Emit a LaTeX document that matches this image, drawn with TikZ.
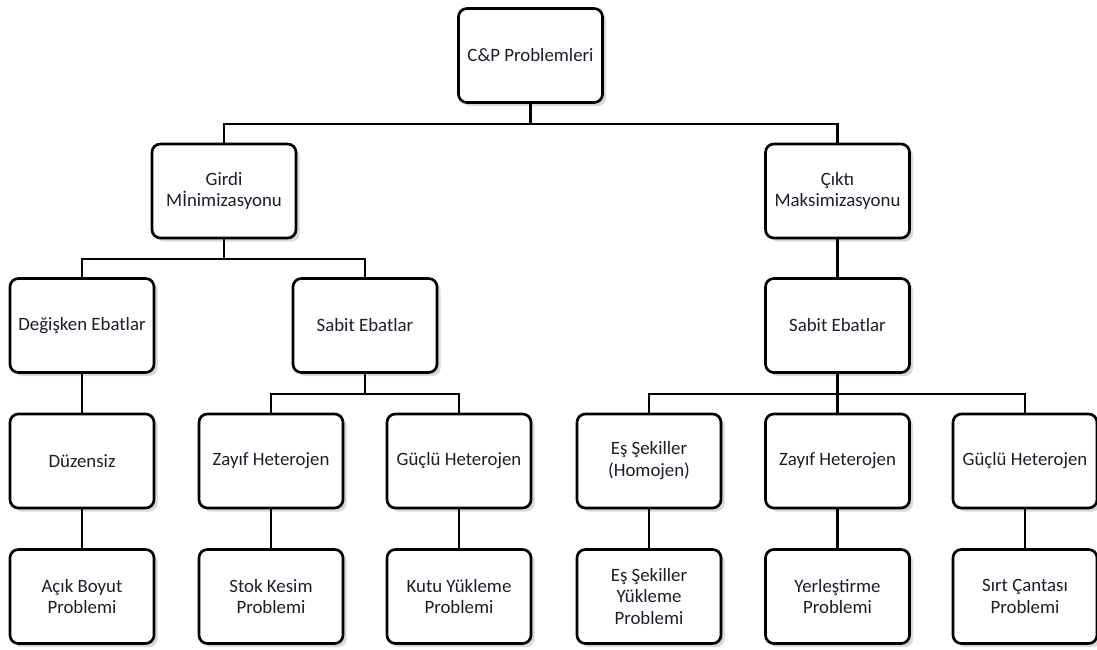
\documentclass[tikz,border=0pt]{standalone}
\usepackage{fontspec}
\setmainfont{Carlito}
\usetikzlibrary{shadows}
\definecolor{ink}{RGB}{28,30,42}
\tikzset{
  cpbox/.style={draw=black,fill=white,rounded corners=6pt,line width=1.9pt,
    minimum width=3.6cm,minimum height=2.35cm,align=center,text=ink,
    font=\fontsize{13.4}{15.6}\selectfont,
    drop shadow={opacity=0.3,shadow xshift=0.9mm,shadow yshift=-0.9mm}},
  link/.style={draw=black,line width=1.6pt},
}
\begin{document}
\begin{tikzpicture}[x=0.025cm,y=-0.025cm]
  \useasboundingbox (0,0) rectangle (1097,650);
  % top levels
  \node[cpbox] (root) at (530.5,55.5) {C\&P Problemleri};
  \node[cpbox] (girdi) at (224,191) {Girdi\\Mİnimizasyonu};
  \node[cpbox] (cikti) at (837.5,191) {Çıktı\\Maksimizasyonu};
  % third row
  \node[cpbox] (degisken) at (82,325.5) {Değişken Ebatlar};
  \node[cpbox] (sabitL) at (365,325.5) {Sabit Ebatlar};
  \node[cpbox] (sabitR) at (837.5,325.5) {Sabit Ebatlar};
  % fourth row
  \node[cpbox] (duzensiz) at (82,461) {Düzensiz};
  \node[cpbox] (zayifL) at (271,461) {Zayıf Heterojen};
  \node[cpbox] (gucluL) at (459,461) {Güçlü Heterojen};
  \node[cpbox] (es) at (649,461) {Eş Şekiller\\(Homojen)};
  \node[cpbox] (zayifR) at (837.5,461) {Zayıf Heterojen};
  \node[cpbox] (gucluR) at (1025,461) {Güçlü Heterojen};
  % problems
  \node[cpbox] (acik) at (82,596.5) {Açık Boyut\\Problemi};
  \node[cpbox] (stok) at (271,596.5) {Stok Kesim\\Problemi};
  \node[cpbox] (kutu) at (459,596.5) {Kutu Yükleme\\Problemi};
  \node[cpbox] (esyuk) at (649,596.5) {Eş Şekiller\\Yükleme\\Problemi};
  \node[cpbox] (yerles) at (837.5,596.5) {Yerleştirme\\Problemi};
  \node[cpbox] (sirt) at (1025,596.5) {Sırt Çantası\\Problemi};
  % connectors
  \draw[link] (root.south) -- ++(0,20) -| (girdi.north);
  \draw[link] (root.south) -- ++(0,20) -| (cikti.north);
  \draw[link] (girdi.south) -- ++(0,20) -| (degisken.north);
  \draw[link] (girdi.south) -- ++(0,20) -| (sabitL.north);
  \draw[link] (cikti.south) -- (sabitR.north);
  \draw[link] (degisken.south) -- (duzensiz.north);
  \draw[link] (sabitL.south) -- ++(0,20) -| (zayifL.north);
  \draw[link] (sabitL.south) -- ++(0,20) -| (gucluL.north);
  \draw[link] (sabitR.south) -- ++(0,20) -| (es.north);
  \draw[link] (sabitR.south) -- ++(0,20) -| (zayifR.north);
  \draw[link] (sabitR.south) -- ++(0,20) -| (gucluR.north);
  \foreach \a/\b in {duzensiz/acik,zayifL/stok,gucluL/kutu,es/esyuk,zayifR/yerles,gucluR/sirt}
    \draw[link] (\a.south) -- (\b.north);
\end{tikzpicture}
\end{document}
